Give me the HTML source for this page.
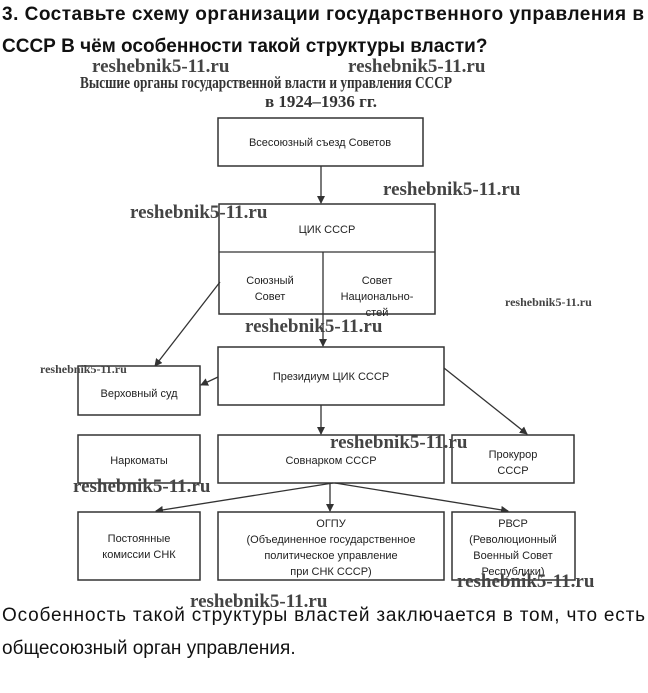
<!DOCTYPE html>
<html><head><meta charset="utf-8"><style>
html,body{margin:0;padding:0;background:#fff;}
svg{display:block;}
.h{font-family:"Liberation Sans","DejaVu Sans",sans-serif;font-weight:bold;font-size:19px;fill:#111;}
.t{font-family:"Liberation Serif",serif;font-weight:bold;font-size:17px;fill:#333;}
.wm{font-family:"Liberation Serif",serif;font-weight:bold;font-size:19px;fill:#444;}
.wms{font-family:"Liberation Serif",serif;font-weight:bold;font-size:12px;fill:#444;}
.b{font-family:"Liberation Sans",sans-serif;font-size:11px;fill:#222;text-anchor:middle;}
.p{font-family:"Liberation Sans","DejaVu Sans",sans-serif;font-size:19px;fill:#111;}
rect{fill:#fff;stroke:#333;stroke-width:1.5;}
line{stroke:#333;stroke-width:1.3;}
</style></head><body>
<svg width="648" height="693" viewBox="0 0 648 693" xmlns="http://www.w3.org/2000/svg">
<defs><marker id="a" markerWidth="8" markerHeight="8" refX="7" refY="4" orient="auto" markerUnits="userSpaceOnUse"><path d="M0,0 L8,4 L0,8 z" fill="#333"/></marker></defs>
<text class="h" x="2" y="20" textLength="642" lengthAdjust="spacing">3. Составьте схему организации государственного управления в</text>
<text class="h" x="2" y="52">СССР В чём особенности такой структуры власти?</text>
<text class="wm" x="92" y="72">reshebnik5-11.ru</text>
<text class="wm" x="348" y="72">reshebnik5-11.ru</text>
<text class="t" x="80" y="88" textLength="372" lengthAdjust="spacingAndGlyphs">Высшие органы государственной власти и управления СССР</text>
<text class="t" x="265" y="107">в 1924–1936 гг.</text>

<rect x="218" y="118" width="205" height="48"/>
<text class="b" x="320" y="146">Всесоюзный съезд Советов</text>
<line x1="321" y1="166" x2="321" y2="203" marker-end="url(#a)"/>

<rect x="219" y="204" width="216" height="110"/>
<line x1="219" y1="252" x2="435" y2="252"/>
<text class="b" x="327" y="233">ЦИК СССР</text>
<line x1="323" y1="252" x2="323" y2="346" marker-end="url(#a)"/>
<text class="b" x="270" y="284">Союзный</text>
<text class="b" x="270" y="300">Совет</text>
<text class="b" x="377" y="284">Совет</text>
<text class="b" x="377" y="300">Национально-</text>
<text class="b" x="377" y="316">стей</text>

<line x1="220" y1="282" x2="155" y2="366" marker-end="url(#a)"/>

<rect x="218" y="347" width="226" height="58"/>
<text class="b" x="331" y="380">Президиум ЦИК СССР</text>
<rect x="78" y="366" width="122" height="49"/>
<text class="b" x="139" y="397">Верховный суд</text>
<line x1="218" y1="377" x2="201" y2="385" marker-end="url(#a)"/>
<line x1="444" y1="368" x2="527" y2="434" marker-end="url(#a)"/>
<line x1="321" y1="405" x2="321" y2="434" marker-end="url(#a)"/>

<rect x="78" y="435" width="122" height="48"/>
<text class="b" x="139" y="464">Наркоматы</text>
<rect x="218" y="435" width="226" height="48"/>
<text class="b" x="331" y="464">Совнарком СССР</text>
<rect x="452" y="435" width="122" height="48"/>
<text class="b" x="513" y="458">Прокурор</text>
<text class="b" x="513" y="474">СССР</text>

<line x1="333" y1="483" x2="156" y2="511" marker-end="url(#a)"/>
<line x1="330" y1="483" x2="330" y2="511" marker-end="url(#a)"/>
<line x1="335" y1="483" x2="508" y2="511" marker-end="url(#a)"/>

<rect x="78" y="512" width="122" height="68"/>
<text class="b" x="139" y="542">Постоянные</text>
<text class="b" x="139" y="558">комиссии СНК</text>
<rect x="218" y="512" width="226" height="68"/>
<text class="b" x="331" y="527">ОГПУ</text>
<text class="b" x="331" y="543">(Объединенное государственное</text>
<text class="b" x="331" y="559">политическое управление</text>
<text class="b" x="331" y="575">при СНК СССР)</text>
<rect x="452" y="512" width="123" height="68"/>
<text class="b" x="513" y="527">РВСР</text>
<text class="b" x="513" y="543">(Революционный</text>
<text class="b" x="513" y="559">Военный Совет</text>
<text class="b" x="513" y="575">Республики)</text>

<text class="wm" x="383" y="195">reshebnik5-11.ru</text>
<text class="wm" x="130" y="218">reshebnik5-11.ru</text>
<text class="wms" x="505" y="306">reshebnik5-11.ru</text>
<text class="wm" x="245" y="332">reshebnik5-11.ru</text>
<text class="wms" x="40" y="373">reshebnik5-11.ru</text>
<text class="wm" x="330" y="448">reshebnik5-11.ru</text>
<text class="wm" x="73" y="492">reshebnik5-11.ru</text>
<text class="wm" x="457" y="587">reshebnik5-11.ru</text>
<text class="wm" x="190" y="607">reshebnik5-11.ru</text>

<text class="p" x="2" y="621" textLength="643" lengthAdjust="spacing">Особенность такой структуры властей заключается в том, что есть</text>
<text class="p" x="2" y="654">общесоюзный орган управления.</text>
</svg>
</body></html>
